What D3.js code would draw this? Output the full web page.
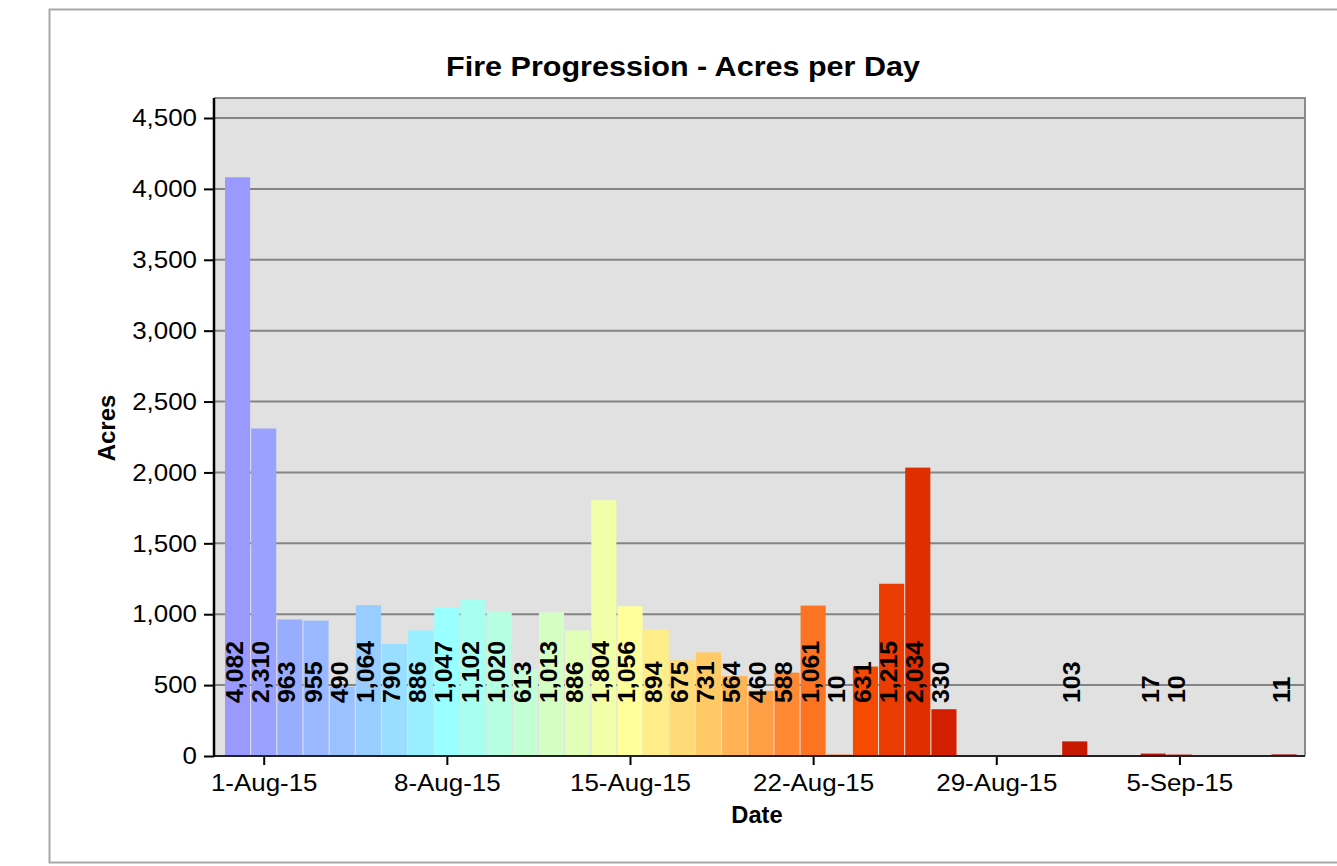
<!DOCTYPE html>
<html>
<head>
<meta charset="utf-8">
<script src="https://cdn.jsdelivr.net/npm/d3@7"></script>
<style>
  body { margin: 0; background: #fff; }
  text { font-family: "Liberation Sans", Arial, sans-serif; fill: #000; }
</style>
</head>
<body>
<div id="chart"></div>
<script>
// daily acres burned (days with no report are left out)
const dates = ['2015-07-31', '2015-08-01', '2015-08-02', '2015-08-03', '2015-08-04', '2015-08-05',
  '2015-08-06', '2015-08-07', '2015-08-08', '2015-08-09', '2015-08-10', '2015-08-11', '2015-08-12',
  '2015-08-13', '2015-08-14', '2015-08-15', '2015-08-16', '2015-08-17', '2015-08-18', '2015-08-19',
  '2015-08-20', '2015-08-21', '2015-08-22', '2015-08-23', '2015-08-24', '2015-08-25', '2015-08-26',
  '2015-08-27', '2015-09-01', '2015-09-04', '2015-09-05', '2015-09-09'];
const acres = [4082, 2310, 963, 955, 490, 1064, 790, 886, 1047, 1102, 1020, 613, 1013,
  886, 1804, 1056, 894, 675, 731, 564, 460, 588, 1061, 10, 631, 1215, 2034,
  330, 103, 17, 10, 11];
const yTicks = [0, 500, 1000, 1500, 2000, 2500, 3000, 3500, 4000, 4500];
const xTicks = ['2015-08-01', '2015-08-08', '2015-08-15', '2015-08-22', '2015-08-29', '2015-09-05'];

const parse = d3.timeParse('%Y-%m-%d');
const DAY = 864e5;
const data = dates.map((d, i) => ({ date: parse(d), v: acres[i] }));
const start = parse(dates[0]), end = parse(dates[dates.length - 1]);

const W = 1337, H = 866, m = { t: 98, r: 32, b: 110, l: 214 };
const x = d3.scaleTime()
  .domain([new Date(+start - 0.9 * DAY), new Date(+end + 0.8 * DAY)])
  .range([m.l, W - m.r]);
const y = d3.scaleLinear().domain([0, 4500]).range([756, 118]);

// colour runs from violet-blue through cyan, yellow, orange to dark red over the days
const dayIdx = d => Math.round((d - start) / DAY);
const color = d3.scaleLinear()
  .domain([0, 5, 8, 11, 15, 18, 21, 24, 27, 32, 35, 40])
  .range(['#9999ff', '#99ccff', '#99ffff', '#c4ffd4', '#ffff99', '#ffc966', '#ff8833',
    '#f54a00', '#d42000', '#c81800', '#c01000', '#a00000']);

// horizontal stretch of text, the reference renders fonts a bit wide
function stretch(sel, k) {
  sel.each(function () {
    const n = this.getComputedTextLength();
    this.setAttribute('textLength', n * k);
    this.setAttribute('lengthAdjust', 'spacingAndGlyphs');
  });
}

const svg = d3.select('#chart').append('svg').attr('width', W).attr('height', H);

// outer chart frame
svg.append('rect').attr('x', 49.5).attr('y', 9.5).attr('width', 1400).attr('height', 853)
  .attr('fill', 'none').attr('stroke', '#a8a8a8').attr('stroke-width', 2);

// plot background
svg.append('rect').attr('x', m.l).attr('y', m.t).attr('width', W - m.r - m.l).attr('height', y(0) - m.t)
  .attr('fill', '#e1e1e1');

// gridlines
svg.append('g').selectAll('line').data(yTicks.filter(t => t > 0)).join('line')
  .attr('x1', m.l).attr('x2', W - m.r).attr('y1', d => y(d)).attr('y2', d => y(d))
  .attr('stroke', '#848484').attr('stroke-width', 2);

// plot border top/right
svg.append('path').attr('d', `M${m.l},${m.t}H${W - m.r}V${y(0)}`)
  .attr('fill', 'none').attr('stroke', '#8c8c8c').attr('stroke-width', 2);

// bars
svg.append('g').selectAll('rect').data(data).join('rect')
  .attr('x', d => x(new Date(+d.date - 0.48 * DAY)))
  .attr('width', d => x(new Date(+d.date + 0.48 * DAY)) - x(new Date(+d.date - 0.48 * DAY)))
  .attr('y', d => y(d.v)).attr('height', d => y(0) - y(d.v))
  .attr('fill', d => color(dayIdx(d.date)));

// value labels, all at a fixed height above the base
const lbl = svg.append('g').selectAll('text').data(data).join('text')
  .attr('transform', d => `translate(${x(d.date) + 5.5},${y(0) - 53}) rotate(-90)`)
  .attr('font-size', 23).attr('font-weight', 'bold')
  .text(d => d3.format(',')(d.v));
stretch(lbl, 1.08);

// y axis
const gy = svg.append('g').attr('transform', `translate(${m.l},0)`)
  .call(d3.axisLeft(y).tickValues(yTicks).tickSize(10).tickPadding(7).tickFormat(d3.format(',')));
gy.select('.domain').remove();
gy.selectAll('.tick line').attr('stroke', '#000').attr('stroke-width', 2);
gy.selectAll('.tick text').attr('font-size', 24).attr('font-family', null).attr('fill', '#000');
stretch(gy.selectAll('.tick text'), 1.08);

// x axis
const gx = svg.append('g').attr('transform', `translate(0,${y(0)})`)
  .call(d3.axisBottom(x).tickValues(xTicks.map(parse)).tickSize(9).tickPadding(9)
    .tickFormat(d3.timeFormat('%-d-%b-%y')));
gx.select('.domain').remove();
gx.selectAll('.tick line').attr('stroke', '#000').attr('stroke-width', 2);
gx.selectAll('.tick text').attr('font-size', 24).attr('font-family', null).attr('fill', '#000');
stretch(gx.selectAll('.tick text'), 1.08);

// axis lines
svg.append('line').attr('x1', m.l - 1).attr('x2', W - m.r).attr('y1', y(0)).attr('y2', y(0))
  .attr('stroke', '#222').attr('stroke-width', 2);
svg.append('line').attr('x1', m.l).attr('x2', m.l).attr('y1', m.t).attr('y2', y(0) + 1)
  .attr('stroke', '#000').attr('stroke-width', 2.5);

// titles
const title = svg.append('text').attr('x', 683).attr('y', 76).attr('text-anchor', 'middle')
  .attr('font-size', 28).attr('font-weight', 'bold').text('Fire Progression - Acres per Day');
stretch(title, 1.09);

svg.append('text').attr('transform', 'translate(115,428) rotate(-90)').attr('text-anchor', 'middle')
  .attr('font-size', 24).attr('font-weight', 'bold').text('Acres');

const xt = svg.append('text').attr('x', 757).attr('y', 823).attr('text-anchor', 'middle')
  .attr('font-size', 23).attr('font-weight', 'bold').text('Date');
stretch(xt, 1.03);
</script>
</body>
</html>
